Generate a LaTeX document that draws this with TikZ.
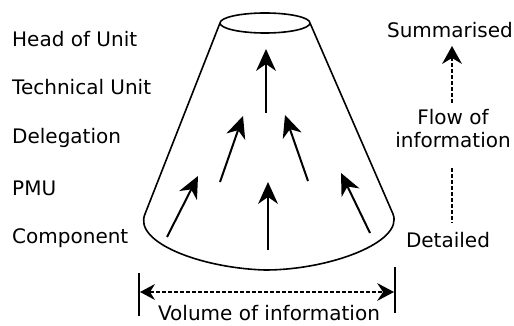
\documentclass[tikz,border=0pt]{standalone}
\usepackage{fontspec}
\setmainfont{DejaVu Sans}
\usetikzlibrary{calc}
% #1 tip, #2 tail, #3 head length, #4 half width, #5 notch distance
\newcommand{\myhead}[5]{%
  \fill (#1) -- ($(#1)!#3!(#2)!#4!90:(#2)$) -- ($(#1)!#5!(#2)$)
    -- ($(#1)!#3!(#2)!#4!-90:(#2)$) -- cycle;}
\newcommand{\myarrow}[2]{%
  \draw[line width=2pt] (#2) -- ($(#1)!10pt!(#2)$);
  \myhead{#1}{#2}{22pt}{10pt}{15pt}}
\begin{document}
\begin{tikzpicture}[x=1pt,y=-1pt,
  lbl/.style={font=\fontsize{20}{22}\selectfont, inner sep=0pt, anchor=base west},
  clbl/.style={font=\fontsize{20}{22}\selectfont, inner sep=0pt, anchor=base},
  cone/.style={line width=1.6pt, line join=round},
  dashln/.style={line width=1.6pt, dash pattern=on 4pt off 2pt},
  bar/.style={line width=1.6pt}]
\useasboundingbox (0,0) rectangle (514,326);
% left labels
\node[lbl] (hou) at (12,47) {Head of Unit};
\node[lbl] (tu) at (12,95) {Technical Unit};
\node[lbl] (del) at (12,143) {Delegation};
\node[lbl] (pmu) at (12,195) {PMU};
\node[lbl] (comp) at (12,243) {Component};
% cone
\draw[cone] (265,23) ellipse [x radius=45, y radius=10];
\draw[cone] (220,23) -- (145,214) .. controls (133,242) and (200,268) .. (265,270)
  .. controls (330,270) and (404,242) .. (393,214) -- (310,23);
% arrows inside cone
\coordinate (a1s) at (266,113); \coordinate (a1e) at (266,49);
\coordinate (a2s) at (220,182); \coordinate (a2e) at (243,116);
\coordinate (a3s) at (308,181); \coordinate (a3e) at (285,115);
\coordinate (a4s) at (167,237); \coordinate (a4e) at (198,176);
\coordinate (a5s) at (268,250); \coordinate (a5e) at (268,182);
\coordinate (a6s) at (370,233); \coordinate (a6e) at (341,173);
\myarrow{a1e}{a1s}
\myarrow{a2e}{a2s}
\myarrow{a3e}{a3s}
\myarrow{a4e}{a4s}
\myarrow{a5e}{a5s}
\myarrow{a6e}{a6s}
% right labels
\node[clbl] (sum) at (450,38) {Summarised};
\node[clbl] (flow) at (453,125) {Flow of};
\node[clbl] (info) at (453,148) {information};
\node[clbl] (det) at (448,247) {Detailed};
\coordinate (u1) at (452,103);
\coordinate (u2) at (452,46);
\draw[dashln] (u1) -- (452,58);
\myhead{u2}{u1}{18pt}{10pt}{12pt}
\coordinate (d1) at (452,168);
\coordinate (d2) at (452,223);
\draw[dashln] (d1) -- (d2);
% volume
\coordinate (bl1) at (139,273); \coordinate (bl2) at (139,316);
\coordinate (br1) at (395,267); \coordinate (br2) at (395,313);
\coordinate (vl) at (140,292); \coordinate (vr) at (394,292);
\draw[bar] (bl1) -- (bl2);
\draw[bar] (br1) -- (br2);
\draw[dashln] ($(vl)!10pt!(vr)$) -- ($(vr)!10pt!(vl)$);
\myhead{vl}{vr}{15pt}{8pt}{10pt}
\myhead{vr}{vl}{17pt}{9pt}{11pt}
\node[clbl] (vol) at (269,320) {Volume of information};
\end{tikzpicture}
\end{document}
